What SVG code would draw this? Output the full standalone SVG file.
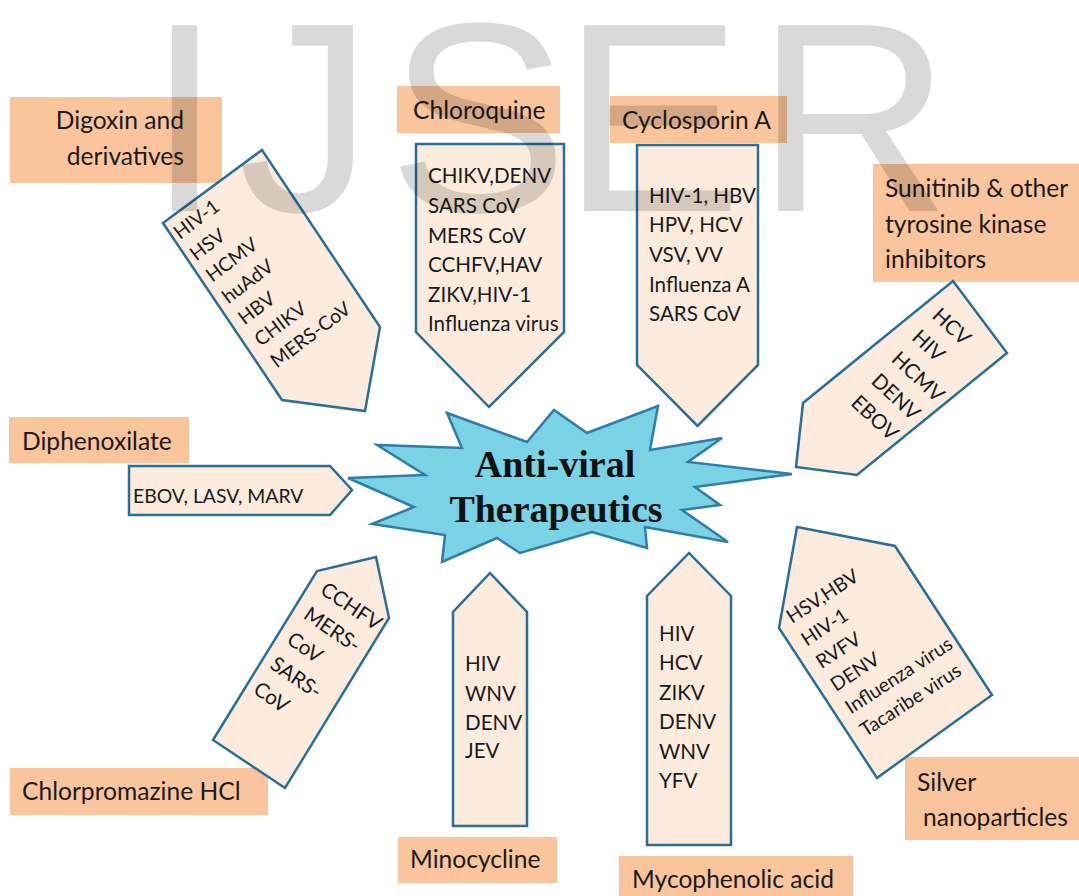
<svg xmlns="http://www.w3.org/2000/svg" width="1079" height="896" viewBox="0 0 1079 896">
<style>
.lbl{fill:#fac59c}
.lt{font-family:Lato,"Open Sans","Liberation Sans",sans-serif;font-size:24.6px;fill:#1a1a1a}
.arr{fill:#fdebdd;stroke:#2a6f97;stroke-width:2.5;stroke-linejoin:miter}
.vt{font-family:Lato,"Open Sans","Liberation Sans",sans-serif;font-size:20.6px;fill:#1a1a1a}
.vs{font-family:Lato,"Open Sans","Liberation Sans",sans-serif;font-size:19.4px;fill:#1a1a1a}
.star{fill:#7ad2e5;stroke:#2e7dab;stroke-width:2.5;stroke-linejoin:miter}
.st{font-family:"Liberation Serif","DejaVu Serif",serif;font-size:38px;font-weight:bold;fill:#111;text-anchor:middle}
.wm{font-family:"Liberation Sans",Arial,sans-serif;font-size:270px;fill:#000;fill-opacity:0.15}
</style>
<rect width="1079" height="896" fill="#fff"/>

<g id="digoxin">
<rect class="lbl" x="10" y="97" width="212" height="86"/>
<text class="lt" x="184" y="129" text-anchor="end">Digoxin and</text>
<text class="lt" x="184" y="165" text-anchor="end">derivatives</text>
<polygon class="arr" points="163,223 262,150 380,327 365,411 282,400"/>
<g transform="translate(180,240) rotate(-37)">
<text class="vs" x="0" y="0">HIV-1</text>
<text class="vs" x="0" y="26.8">HSV</text>
<text class="vs" x="0" y="53.6">HCMV</text>
<text class="vs" x="0" y="80.4">huAdV</text>
<text class="vs" x="0" y="107.2">HBV</text>
<text class="vs" x="0" y="134">CHIKV</text>
<text class="vs" x="0" y="160.8">MERS-CoV</text>
</g>
</g>

<g id="chloroquine">
<rect class="lbl" x="397" y="86" width="163" height="47"/>
<text class="lt" x="413" y="119">Chloroquine</text>
<polygon class="arr" points="416,144 564,144 564,332 489,407 416,332"/>
<text class="vt" x="428" y="183">CHIKV,DENV</text>
<text class="vt" x="428" y="213">SARS CoV</text>
<text class="vt" x="428" y="243">MERS CoV</text>
<text class="vt" x="428" y="272">CCHFV,HAV</text>
<text class="vt" x="428" y="302">ZIKV,HIV-1</text>
<text class="vt" x="428" y="331">Influenza virus</text>
</g>

<g id="cyclosporin">
<rect class="lbl" x="610" y="96" width="177" height="47"/>
<text class="lt" x="622" y="129">Cyclosporin A</text>
<polygon class="arr" points="637,145 758,145 758,365 697.5,426 637,365"/>
<text class="vt" x="649" y="203">HIV-1, HBV</text>
<text class="vt" x="649" y="232">HPV, HCV</text>
<text class="vt" x="649" y="262">VSV, VV</text>
<text class="vt" x="649" y="292">Influenza A</text>
<text class="vt" x="649" y="321">SARS CoV</text>
</g>

<g id="sunitinib">
<rect class="lbl" x="873" y="164" width="206" height="118"/>
<text class="lt" x="885" y="197">Sunitinib &amp; other</text>
<text class="lt" x="885" y="233">tyrosine kinase</text>
<text class="lt" x="885" y="268">inhibitors</text>
<polygon class="arr" points="953,281 1007,353 857,475 796,467 803,403"/>
<g transform="translate(931,317) rotate(43)">
<text class="vt" x="0" y="0">HCV</text>
<text class="vt" x="0" y="29.8">HIV</text>
<text class="vt" x="0" y="59.6">HCMV</text>
<text class="vt" x="0" y="89.4">DENV</text>
<text class="vt" x="0" y="119.2">EBOV</text>
</g>
</g>

<g id="diphenoxilate">
<rect class="lbl" x="9" y="417" width="180" height="46"/>
<text class="lt" x="22" y="450">Diphenoxilate</text>
<polygon class="arr" points="129,466 330,466 352,490 330,515 129,515"/>
<text class="vs" x="133" y="503">EBOV, LASV, MARV</text>
</g>

<g id="chlorpromazine">
<rect class="lbl" x="10" y="768" width="258" height="47"/>
<text class="lt" x="22" y="800">Chlorpromazine HCl</text>
<polygon class="arr" points="376,557 389,618 285,788 213,740 317,571"/>
<g transform="translate(319,593) rotate(34)">
<text class="vt" x="0" y="0">CCHFV</text>
<text class="vt" x="0" y="30">MERS-</text>
<text class="vt" x="0" y="60">CoV</text>
<text class="vt" x="0" y="90">SARS-</text>
<text class="vt" x="0" y="120">CoV</text>
</g>
</g>

<g id="minocycline">
<rect class="lbl" x="398" y="837" width="159" height="46"/>
<text class="lt" x="410" y="868">Minocycline</text>
<polygon class="arr" points="453,826 453,612 490,573 527,612 527,826"/>
<text class="vt" x="465" y="671">HIV</text>
<text class="vt" x="465" y="701">WNV</text>
<text class="vt" x="465" y="730">DENV</text>
<text class="vt" x="465" y="758">JEV</text>
</g>

<g id="mycophenolic">
<rect class="lbl" x="619" y="856" width="234" height="45"/>
<text class="lt" x="632" y="888">Mycophenolic acid</text>
<polygon class="arr" points="647,845 647,596 689,553 731,596 731,845"/>
<text class="vt" x="659" y="641">HIV</text>
<text class="vt" x="659" y="670">HCV</text>
<text class="vt" x="659" y="700">ZIKV</text>
<text class="vt" x="659" y="729">DENV</text>
<text class="vt" x="659" y="759">WNV</text>
<text class="vt" x="659" y="788">YFV</text>
</g>

<g id="silver">
<rect class="lbl" x="905" y="757" width="174" height="83"/>
<text class="lt" x="917" y="791">Silver</text>
<text class="lt" x="923" y="826">nanoparticles</text>
<polygon class="arr" points="797,527 895,546 992,695 877,778 779,628"/>
<g transform="translate(792,624) rotate(-33)">
<text class="vs" x="0" y="0">HSV,HBV</text>
<text class="vs" x="0" y="27">HIV-1</text>
<text class="vs" x="0" y="54">RVFV</text>
<text class="vs" x="0" y="81">DENV</text>
<text class="vs" x="0" y="108">Influenza virus</text>
<text class="vs" x="0" y="135">Tacaribe virus</text>
</g>
</g>

<g id="center">
<polygon class="star" points="348,478 425,475 377,445 462,448 447,413 527,442 554,410 587,433 658,406 650,450 722,438 688,462 792,474 695,487 720,505 682,510 728,542 645,527 647,548 592,532 520,553 497,538 442,562 445,535 372,524 414,507"/>
<text class="st" x="555" y="477">Anti-viral</text>
<text class="st" x="556" y="522">Therapeutics</text>
</g>

<g id="connectors"/>

<g id="watermark">
<text class="wm" x="147 238 388 562 756" y="211">IJSER</text>
</g>
</svg>
